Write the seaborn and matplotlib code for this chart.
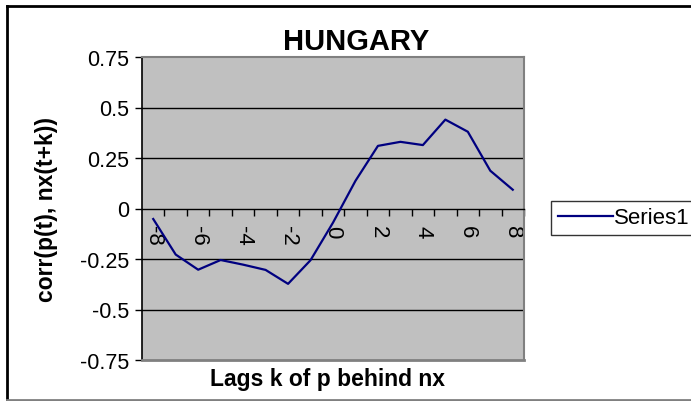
import matplotlib
matplotlib.use("Agg")
import matplotlib.pyplot as plt
import seaborn as sns
import pandas as pd
from matplotlib.lines import Line2D

# values
lags = [-8, -7, -6, -5, -4, -3, -2, -1, 0, 1, 2, 3, 4, 5, 6, 7, 8]
corr = [-0.052, -0.228, -0.303, -0.255, -0.278, -0.304, -0.373, -0.256, -0.07,
        0.137, 0.31, 0.33, 0.314, 0.44, 0.38, 0.187, 0.093]
ytick_vals = [-0.75, -0.5, -0.25, 0, 0.25, 0.5, 0.75]
ytick_labels = ["-0.75", "-0.5", "-0.25", "0", "0.25", "0.5", "0.75"]
xlabel_vals = [-8, -6, -4, -2, 0, 2, 4, 6, 8]

df = pd.DataFrame({"lag": lags, "corr": corr})

plt.rcParams["font.family"] = ["Liberation Sans", "DejaVu Sans"]

W, H = 691, 402
fig = plt.figure(figsize=(W / 100, H / 100), dpi=100)
ax = fig.add_axes([142 / W, 1 - 361 / H, (524 - 142) / W, (361 - 58) / H])
ax.set_facecolor("#C0C0C0")

# gridlines
for v in [-0.5, -0.25, 0.25, 0.5]:
    ax.axhline(v, color="black", lw=1, zorder=1)

sns.lineplot(data=df, x="lag", y="corr", ax=ax, color="#000080", lw=1.6,
             label="Series1", zorder=3)

ax.set_xlim(-8.5, 8.5)
ax.set_ylim(-0.75, 0.75)

# spines: x axis at y=0, gray border around plot area
ax.spines["bottom"].set_position(("data", 0))
ax.spines["bottom"].set_color("black")
ax.spines["bottom"].set_linewidth(1)
ax.spines["left"].set_color("black")
ax.spines["left"].set_linewidth(1.2)
for s in ["top", "right"]:
    ax.spines[s].set_color("#808080")
    ax.spines[s].set_linewidth(1.5)
ax.axhline(-0.75, color="#808080", lw=2, zorder=4, clip_on=False)

# y ticks
ax.set_yticks(ytick_vals)
ax.set_yticklabels(ytick_labels)
ax.tick_params(axis="y", direction="out", length=5, width=1, pad=4, labelsize=15.5)

# x ticks: marks on category boundaries, labels on every other category
ax.set_xticks([l + 0.5 for l in lags[:-1]] + [8.5])
ax.set_xticklabels([])
ax.set_xticks(xlabel_vals, minor=True)
ax.set_xticklabels([str(v) for v in xlabel_vals], minor=True, rotation=-90)
ax.tick_params(axis="x", which="major", direction="out", length=5, width=1)
ax.tick_params(axis="x", which="minor", length=0, pad=12, labelsize=16)
for t in ax.get_xticklabels(minor=True):
    t.set_va("top")
    t.set_ha("center")

ax.set_xlabel("")
ax.set_ylabel("")

# titles and axis labels placed like the Excel chart
fig.text(356 / W, 1 - 42 / H, "HUNGARY", ha="center", va="center",
         fontsize=21, fontweight="bold")
fig.text(328 / W, 1 - 380 / H, "Lags k of p behind nx", ha="center", va="center",
         fontsize=16.5, fontweight="bold")
fig.text(47 / W, 1 - 209 / H, "corr(p(t), nx(t+k))", ha="center", va="center",
         rotation=90, fontsize=16.5, fontweight="bold")

# legend
leg = ax.legend(loc="center left", bbox_to_anchor=(551 / W, 1 - 219 / H),
                bbox_transform=fig.transFigure, frameon=True, fancybox=False,
                edgecolor="black", fontsize=16, handlelength=2.5,
                handletextpad=0.05, borderpad=0.3, borderaxespad=0)
leg.get_frame().set_linewidth(1)

# chart border
fig.add_artist(Line2D([7 / W, 7 / W], [1 / H, 1 - 7 / H], color="black", lw=2,
                      transform=fig.transFigure))
fig.add_artist(Line2D([7 / W, 1], [1 - 7 / H, 1 - 7 / H], color="black", lw=2,
                      transform=fig.transFigure))
fig.add_artist(Line2D([7 / W, 1], [1 / H, 1 / H], color="#808080", lw=2,
                      transform=fig.transFigure))

fig.savefig("out.png", dpi=100)
